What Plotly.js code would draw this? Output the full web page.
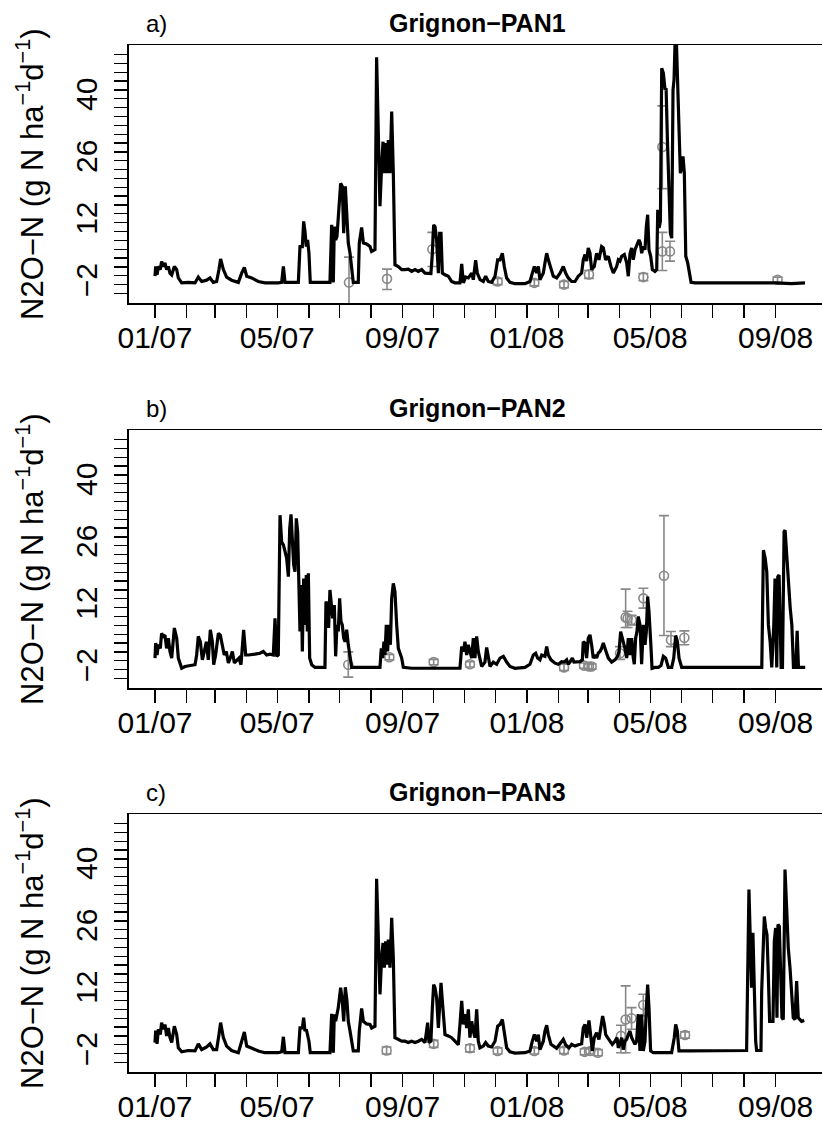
<!DOCTYPE html>
<html><head><meta charset="utf-8">
<script src="https://cdn.plot.ly/plotly-3.0.1.min.js"></script>
<style>html,body{margin:0;padding:0;background:#fff}#chart{width:822px;height:1126px}</style>
</head><body><div id="chart"></div>
<script>
// ---- data: [day since 2007-01-01, N2O-N flux (g N ha-1 d-1)] ----
const START_DATE = '2007-01-01';

const modelPAN1 = [[0,-0.1],[0.7,2.1],[2,0.2],[3.3,2.1],[5.2,1.4],[6.5,3.2],[8.2,2.1],[9.8,2.9],[11.4,1.4],[13.1,2.1],[14.7,0.6],[16.4,0.2],[19,2.1],[21.3,1.4],[22.9,-0.5],[26.2,-1.6],[32.7,-1.5],[39.3,-1.6],[42.5,-0.3],[45.8,-1.3],[50.7,-1.0],[54,-0.5],[57.2,-1.5],[60.5,-1.3],[62.8,1.4],[64.4,3.8],[67.1,1.4],[70.3,-0.3],[75.2,-1.0],[81.8,-1.5],[85.1,0.6],[87.7,1.9],[90,-0.1],[94.9,-0.5],[101.4,-1.3],[108,-1.6],[121,-1.6],[124.3,-1.5],[126,2.1],[127.6,-1.5],[140.7,-1.5],[142.3,6.6],[144.6,6.6],[145.9,12.3],[147.2,10.0],[148.5,6.6],[149.8,8.1],[151.1,5.1],[152.4,-1.5],[171.7,-1.5],[173.4,11.5],[175,-1.5],[176,11.1],[177.3,8.1],[178.6,8.9],[179.9,13.4],[182.2,20.9],[183.8,20.2],[185.2,9.6],[186.8,20.2],[188.4,11.9],[189.7,7.4],[191.4,5.1],[193,2.1],[194.6,-1.5],[199.5,-1.5],[200.5,7.4],[202.8,10.9],[204.5,7.4],[207.7,7.2],[211,6.6],[212.6,5.5],[215.9,5.9],[217.5,49.4],[219.2,30.7],[220.8,15.7],[222.4,24.7],[223.8,30.3],[225.1,23.2],[226.4,30.0],[227.7,23.2],[229,30.7],[230.6,23.2],[232.3,37.1],[233.9,23.2],[235.5,2.5],[238.8,2.1],[242.1,1.4],[245.3,1.4],[248.6,1.5],[251.9,1.0],[255.2,1.4],[258.4,1.0],[261.7,1.4],[265,0.6],[268.2,0.6],[270.8,0.5],[272.2,5.1],[273.5,11.5],[274.8,11.1],[276.4,8.1],[278.1,0.6],[279.4,9.6],[280.7,9.6],[282,0.6],[284.6,0.2],[287.9,-0.1],[291.1,-1.3],[294.4,-1.6],[299.3,-1.6],[301,2.7],[302.6,-1.6],[304.9,-0.3],[307.5,-0.5],[310.8,0.6],[312.4,-0.9],[314.7,3.5],[316.3,0.6],
[319,-0.9],[322.2,-1.3],[324.5,-0.1],[327.1,-1.3],[330.4,-1.5],[333.7,-0.1],[336.3,3.6],[338.6,3.6],[340.9,5.1],[342.8,2.1],[345.1,-0.5],[348.4,-1.5],[353.3,-1.8],[363.1,-1.8],[368,-1.3],[370.3,0.6],[372.3,2.1],[374.6,0.6],[376.2,2.1],[377.8,-0.9],[381.1,0.6],[382.7,2.9],[384.4,5.1],[386,3.6],[388.6,1.4],[390.9,-0.1],[394.2,-0.5],[397.5,0.6],[400.7,2.1],[403,0.6],[405.6,-0.5],[408.9,-1.3],[412.2,-1.3],[415.4,-0.1],[418.7,0.6],[420.3,3.6],[422,4.8],[423.6,3.3],[425.2,6.3],[426.9,5.1],[428.5,1.4],[431.1,2.1],[433.4,5.1],[435.7,3.6],[438.3,6.6],[440,6.3],[442.3,3.6],[444.9,4.4],[447.5,2.1],[449.8,0.6],[453.1,2.1],[454.7,3.6],[456.3,3.3],[458,4.4],[460.6,4.8],[462.9,2.9],[464.5,-0.1],[466.2,5.1],[467.8,6.3],[469.4,3.6],[471.1,5.9],[473.7,7.4],[475,8.1],[476.3,7.4],[477.6,5.1],[479.3,6.6],[480.9,5.9],[482.2,11.1],[483.5,13.8],[484.8,5.9],[486.5,4.4],[488.1,1.4],[490.7,1.0],[492.4,1.4],[493.4,14.9],[494.7,10.8],[496,12.3],[497.3,46.9],[498.9,45.8],[500.6,42.0],[501.6,42.4],[502.9,30.7],[504.5,19.4],[505.8,9.6],[507.1,8.5],[508.4,42.0],[509.4,44.3],[510.4,53],[511.7,53],[513,40.5],[514.3,28.5],[515.6,23.2],[516.9,24.7],[518.2,27.0],[519.5,23.2],[520.9,4.4],[522.8,2.9],[524.5,0.6],[526.1,-1.5],[530,-1.6],[543,-1.6],[559.4,-1.6],[575.8,-1.6],[592.1,-1.5],[608.5,-1.6],[624.8,-1.8],[637.9,-1.6]];

const modelPAN2 = [[0,0.6],[0.7,4.0],[2,1.3],[3.3,3.6],[5.2,2.8],[6.5,6.2],[8.2,5.5],[9.8,5.8],[11.4,2.8],[13.1,5.1],[14.7,2.1],[16.4,0.6],[19,7.4],[21.3,5.1],[22.9,0.6],[26.2,-1.7],[29.4,-1.3],[39.3,-0.9],[40.9,1.3],[42.5,5.5],[44.5,4.3],[46.5,0.2],[48.4,2.1],[50.4,4.3],[52.3,0.2],[54.3,7.0],[56.3,4.3],[57.6,-0.9],[59.5,1.3],[62.2,6.2],[64.1,5.8],[66.1,3.6],[68,1.3],[70,2.1],[72,-0.5],[73.9,0.6],[75.9,2.1],[77.9,-0.5],[80.5,0.2],[82.4,0.6],[84.4,-0.9],[87,7.0],[89,1.3],[91.6,1.3],[98.1,1.5],[103,1.7],[106.3,2.1],[109.6,1.3],[112.9,1.5],[116.1,1.3],[117.8,9.6],[119.4,1.0],[121,1.3],[122.7,32.9],[124.3,26.9],[126,26.2],[127.6,24.7],[129.2,23.2],[130.9,19.0],[132.2,29.9],[133.5,33.1],[134.8,28.4],[136.1,21.7],[137.4,20.1],[138.7,32.2],[140,29.2],[141.3,15.6],[142.3,6.6],[143.6,17.1],[144.6,2.1],[145.9,18.6],[147.2,8.1],[148.5,19.4],[149.5,6.6],[150.5,19.8],[151.8,0.6],[153.8,-0.9],[157,-1.5],[166.8,-1.5],[167.8,13.4],[169.1,12.6],[170.4,7.4],[171.7,16.0],[173,12.6],[174.4,9.6],[176,12.6],[177.3,1.0],[178.6,8.1],[179.9,6.6],[181.2,14.1],[182.5,8.9],[183.8,8.1],[185.2,5.1],[186.5,4.3],[188.1,7.0],[189.7,3.6],[191.4,0.6],[193,-1.5],[220.8,-1.5],[222.1,2.8],[223.4,0.6],[224.7,4.3],[225.7,1.3],[227,8.1],[228.3,2.1],[229.6,8.1],[231,3.6],[232.3,14.1],[233.9,17.5],[235.5,15.6],[237.2,8.1],[238.8,2.8],[242.1,0.6],[243.7,-1.5],[251.9,-1.7],[268.2,-1.7],[284.6,-1.7],[299.3,-1.7],[301,3.2],[302.6,2.1],[304.2,4.3],[305.9,1.3],[307.5,3.6],[309.1,2.1],[310.8,0.6],[312.4,5.1],[314,0.6],[315.7,5.5],[317.3,2.1],
[320.6,-1.3],[323.8,-0.3],[325.5,3.0],[327.1,0.6],[328.8,-1.3],[332,-0.3],[335.3,-0.8],[338.6,0.6],[341.9,1.0],[345.1,-0.3],[348.4,-1.3],[353.3,-1.7],[363.1,-1.5],[368,-0.8],[371.3,1.3],[373.6,1.7],[375.5,0.6],[377.8,0.2],[379.5,1.3],[382.7,1.0],[384.4,3.2],[386,1.3],[388.6,0.2],[392.6,-0.55],[395.8,-0.8],[399.1,-0.2],[401.7,-0.3],[404,0.2],[405.6,-0.8],[407.3,-0.3],[409.6,0.6],[411.2,-0.3],[413.8,-0.2],[417.1,-0.2],[419.4,0.2],[420.3,4.3],[422,4.0],[423.6,0.6],[425.2,5.1],[426.9,5.85],[428.5,3.6],[430.1,0.6],[431.8,1.3],[433.4,0.6],[435,1.7],[436.7,2.1],[438.3,2.8],[440,4.0],[441.6,2.8],[443.2,1.7],[444.9,0.6],[448.2,-0.3],[451.4,0.2],[454,1.0],[455.4,2.1],[457,6.6],[458.6,5.1],[459.9,4.3],[461.2,2.8],[462.9,0.6],[464.5,5.1],[466.2,1.3],[467.8,5.1],[469.4,0.6],[470.4,-0.8],[471.7,5.1],[473,6.6],[474.3,10.0],[476,8.1],[477.6,-0.8],[479.3,8.1],[480.9,3.6],[482.2,6.6],[483.5,14.5],[484.8,11.1],[486.5,4.3],[487.8,-1.7],[490.7,-1.5],[494,-1.5],[496.6,-1.1],[498.9,1.0],[501.2,0.6],[503.8,-1.5],[507.1,-1.5],[509.1,0.6],[511,5.7],[512.7,4.3],[514.3,0.6],[516.9,-1.5],[523.5,-1.5],[543.1,-1.5],[575.8,-1.5],[595.5,-1.5],[597.1,25.0],[598.8,23.2],[600.4,20.1],[602,8.1],[603.7,4.3],[605.3,-1.5],[607.3,8.1],[608.5,18.6],[610.2,-1.5],[611.2,19.0],[612.5,19.4],[614.5,-1.5],[615.8,-1.5],[617.4,29.2],[618.4,29.5],[620.1,23.2],[621.7,15.6],[623.4,11.9],[625,8.1],[626.6,-1.5],[628.9,-1.5],[630.2,6.75],[631.5,-1.5],[638.1,-1.5]];

const modelPAN3 = [[0,0.5],[0.7,3.2],[2,0.2],[3.3,3.5],[5.2,2.3],[6.5,5.0],[8.2,3.5],[9.8,4.6],[11.4,2.0],[13.1,3.8],[14.7,1.6],[16.4,0.5],[19,4.2],[21.3,2.3],[22.9,-0.7],[26.2,-1.6],[32.7,-1.3],[39.3,-1.4],[42.5,0.2],[45.8,-1.1],[50.7,-0.5],[54,0.2],[57.2,-1.1],[60.5,-1.1],[62.8,2.3],[64.4,5.0],[67.1,1.6],[70.3,-0.3],[75.2,-1.3],[81.8,-1.8],[85.1,0.8],[87.7,2.9],[90,-0.3],[94.9,-0.8],[101.4,-1.4],[108,-1.8],[121,-1.8],[124.3,-1.6],[126,1.8],[127.6,-1.8],[140.7,-1.8],[142.3,3.8],[144.6,3.8],[145.9,6.1],[147.2,3.1],[148.5,3.5],[149.8,2.3],[151.1,0.8],[152.4,-1.8],[171.7,-1.8],[173.4,7.0],[175,-1.8],[176,6.9],[177.3,5.3],[178.6,6.9],[179.9,8.4],[182.2,12.9],[183.8,9.9],[185.2,5.3],[186.8,13.0],[188.4,9.9],[189.7,5.3],[191.4,3.1],[193,0.8],[194.6,-1.4],[199.5,-1.4],[200.5,3.1],[202.8,8.2],[204.5,5.3],[207.7,4.7],[211,4.6],[212.6,3.8],[215.9,4.2],[217.5,37.5],[219.2,23.4],[220.8,11.4],[222.4,19.6],[223.8,23.0],[225.1,17.4],[226.4,23.4],[227.7,18.1],[229,23.8],[230.6,17.4],[232.3,28.7],[233.9,19.6],[235.5,1.6],[238.8,1.2],[242.1,0.8],[245.3,0.8],[248.6,0.5],[251.9,0.8],[255.2,0.5],[258.4,0.8],[261.7,1.2],[265,0.5],[266.6,3.0],[267.6,5.0],[268.9,0.5],[270.8,0.8],[272.2,8.4],[273.5,13.6],[274.8,12.9],[276.4,10.6],[278.1,3.8],[279.4,8.4],[280.7,14.0],[282,9.9],[283.3,5.3],[284.6,2.3],[287.9,2.0],[291.1,1.6],[294.4,0.8],[297.7,0.0],[299.3,4.6],[301,9.9],[302.6,4.6],[304.2,6.9],[305.9,3.8],[307.5,8.0],[309.1,1.6],[310.8,5.3],[312.4,3.1],[314,1.6],[315.7,8.0],[317.3,0.8],
[318.9,-0.7],[322.2,-0.3],[324.5,0.5],[327.1,-0.3],[330.4,-0.5],[333.7,0.8],[336.3,4.2],[338.6,4.6],[340.9,5.7],[342.8,2.3],[345.1,-0.7],[348.4,-1.6],[353.3,-1.9],[363.1,-1.8],[368,-1.4],[370.3,0.8],[372.3,2.3],[374.6,0.8],[376.2,2.3],[377.8,-1.1],[381.1,0.8],[382.7,3.1],[384.4,4.4],[386,2.3],[388.6,0.1],[394.2,-0.8],[397.5,0.1],[400.7,1.2],[403,0.0],[406.3,-0.7],[408.9,0.1],[412.2,-0.3],[415.4,0.0],[418.7,0.2],[420.3,3.8],[422,4.6],[423.6,1.6],[425.9,5.5],[427.5,2.3],[429.2,-1.4],[431.1,1.6],[433.4,2.7],[435.7,1.2],[437.7,4.6],[439.3,6.5],[441,4.6],[442.3,2.3],[444.2,1.6],[446.5,0.8],[448.8,0.1],[451.4,0.8],[453.4,1.6],[454.7,-0.7],[456.3,0.1],[458,1.6],[459.6,-1.1],[461.2,0.8],[462.9,1.2],[464.5,2.3],[466.1,3.1],[467.8,1.6],[469.4,0.8],[471,0.1],[472.7,0.8],[474.3,6.9],[476,-1.4],[477.6,6.9],[479.2,-1.4],[480.9,0.8],[482.2,8.4],[483.5,13.6],[484.8,8.4],[486.4,-1.4],[489,-1.8],[497.2,-1.8],[507,-1.8],[509.6,1.6],[511,4.6],[512.6,3.1],[514.2,-1.4],[523.4,-1.4],[543,-1.4],[562.6,-1.3],[575.7,-1.3],[580.6,-1.3],[582.9,35.1],[584.6,21.9],[585.5,12.9],[586.8,25.3],[588.2,8.4],[589.5,0.8],[590.4,-1.3],[594.7,-1.3],[595.4,12.1],[596.7,23.4],[598,29.0],[599.3,26.4],[600.6,24.9],[601.9,15.9],[603.2,5.3],[604.5,5.3],[606.5,5.3],[607.8,23.4],[609.1,26.4],[610.4,6.1],[611.4,27.2],[612.7,26.8],[614,15.9],[615.3,6.1],[616.6,5.7],[618.3,39.6],[619.9,30.9],[621.5,21.9],[623.2,17.4],[624.8,11.4],[626.4,6.1],[628.1,5.7],[629.7,14.4],[631.3,6.1],[633,5.7],[634.6,5.3],[637.2,5.5]];

// measured fluxes: day, mean, upper, lower
const obsDay1  = [190.4, 227.7, 272.2, 336.3, 372.3, 401.4, 425.9, 479.3, 497.9, 497.9, 505.4, 611.0];
const obsMean1 = [-1.5, -0.7, 6.0, -1.3, -1.6, -2.0, 0.3, -0.3, 29.1, 5.5, 5.5, -0.9];
const obsHigh1 = [4.2, 1.5, 9.8, -0.6, -0.9, -1.3, 1.2, 0.5, 38.4, 9.8, 7.8, -0.3];
const obsLow1  = [-9.0, -3.1, 2.1, -2.0, -2.3, -2.7, -0.6, -1.1, 19.7, 1.2, 3.3, -1.5];

const obsDay2  = [189.7, 230.0, 273.5, 309.1, 401.4, 421.0, 425.9, 428.5, 456.4, 461.9, 463.8, 467.8, 479.3, 499.5, 506.4, 519.5];
const obsMean2 = [-0.9, 0.8, -0.3, -0.8, -1.5, -1.1, -1.3, -1.3, 1.7, 9.8, 9.6, 9.2, 14.1, 19.2, 4.7, 5.2];
const obsHigh2 = [2.0, 1.4, 0.3, -0.2, -0.8, -0.5, -0.7, -0.7, 3.2, 16.2, 11.2, 10.3, 16.4, 32.8, 6.6, 6.75];
const obsLow2  = [-3.7, 0.2, -0.9, -1.4, -2.2, -1.7, -1.9, -1.9, 0.3, 7.5, 7.5, 8.1, 11.9, 5.7, 3.2, 3.6];

const obsDay3  = [227.3, 273.5, 309.1, 336.3, 372.3, 401.4, 421.7, 427.3, 434.7, 457.3, 461.9, 467.7, 479.2, 520.2];
const obsMean3 = [-1.3, 0.2, -0.8, -1.4, -1.4, -1.3, -1.6, -1.4, -1.8, 2.0, 5.7, 6.0, 9.0, 2.2];
const obsHigh3 = [-0.5, 1.0, 0.0, -0.7, -0.7, -0.6, -0.9, -0.7, -1.1, 4.4, 13.3, 8.4, 11.4, 2.9];
const obsLow3  = [-2.1, -0.6, -1.6, -2.1, -2.1, -2.0, -2.3, -2.1, -2.5, -1.8, -1.8, 3.5, 6.5, 1.5];

const panelTitles = ['Grignon\u2212PAN1', 'Grignon\u2212PAN2', 'Grignon\u2212PAN3'];
const panelTags = ['a)', 'b)', 'c)'];
const tickDates = ['2007-01-01','2007-02-01','2007-03-01','2007-04-01','2007-05-01','2007-06-01','2007-07-01','2007-08-01','2007-09-01','2007-10-01','2007-11-01','2007-12-01','2008-01-01','2008-02-01','2008-03-01','2008-04-01','2008-05-01','2008-06-01','2008-07-01','2008-08-01','2008-09-01'];
const tickLabels = ['01/07','','','','05/07','','','','09/07','','','','01/08','','','','05/08','','','','09/08'];
const yTickVals = [-4,-2,0,2,4,6,8,10,12,14,16,18,20,22,24,26,28,30,32,34,36,38,40,42,44,46,48,50];
const yLabelled = {'-2':'\u22122','12':'12','26':'26','40':'40'};
const yLabel = 'N2O\u2212N (g N ha<sup>\u22121</sup>d<sup>\u22121</sup>)';

// ---- build ----
const t0 = Date.parse(START_DATE + 'T00:00:00Z');
const toDate = d => new Date(t0 + d * 86400000).toISOString().slice(0, 19).replace('T', ' ');
const FONT = 'Liberation Sans, Arial, Helvetica, sans-serif';
const GREY = '#888888';
const W = 822, H = 1126;
const panels = [
  {model: modelPAN1, day: obsDay1, mean: obsMean1, hi: obsHigh1, lo: obsLow1, top: 45, bottom: 303},
  {model: modelPAN2, day: obsDay2, mean: obsMean2, hi: obsHigh2, lo: obsLow2, top: 430, bottom: 688},
  {model: modelPAN3, day: obsDay3, mean: obsMean3, hi: obsHigh3, lo: obsLow3, top: 814, bottom: 1072}
];

const data = [];
const layout = {
  width: W, height: H, margin: {l: 0, r: 0, t: 0, b: 0},
  paper_bgcolor: '#fff', plot_bgcolor: '#fff', showlegend: false, hovermode: false,
  annotations: []
};
const xDom = [128.7 / W, 1];
panels.forEach((p, i) => {
  const n = i + 1;
  const xa = n === 1 ? 'x' : 'x' + n, ya = n === 1 ? 'y' : 'y' + n;
  data.push({
    type: 'scatter', mode: 'markers', xaxis: xa, yaxis: ya,
    x: p.day.map(toDate), y: p.mean,
    marker: {symbol: 'circle-open', size: 9, color: GREY, line: {width: 1.6, color: GREY}},
    error_y: {type: 'data', symmetric: false,
      array: p.hi.map((h, k) => h - p.mean[k]), arrayminus: p.lo.map((l, k) => p.mean[k] - l),
      color: GREY, thickness: 1.6, width: 5}
  });
  data.push({
    type: 'scatter', mode: 'lines', xaxis: xa, yaxis: ya,
    x: p.model.map(r => toDate(r[0])), y: p.model.map(r => r[1]),
    line: {color: '#000', width: 3.2}
  });
  const yDom = [1 - p.bottom / H, 1 - p.top / H];
  layout['xaxis' + (n === 1 ? '' : n)] = {
    domain: xDom, anchor: ya, type: 'date',
    range: [toDate(-25.8), toDate(654.6)],
    tickmode: 'array', tickvals: tickDates, ticktext: tickLabels,
    ticks: 'outside', ticklen: 13, tickwidth: 1.3, tickcolor: '#000',
    showline: true, mirror: true, linecolor: '#000', linewidth: 1.5,
    showgrid: false, zeroline: false, tickangle: 0, ticklabelstandoff: -6,
    tickfont: {family: FONT, size: 30, color: '#000'}
  };
  layout['yaxis' + (n === 1 ? '' : n)] = {
    domain: yDom, anchor: xa, range: [-6.16, 52.16],
    tickmode: 'array', tickvals: yTickVals,
    ticktext: yTickVals.map(v => yLabelled[String(v)] || ''),
    ticks: 'outside', ticklen: 13, tickwidth: 1.3, tickcolor: '#000',
    showline: true, mirror: false, linecolor: '#000', linewidth: 1.5,
    showgrid: false, zeroline: false, tickangle: -90, ticklabelstandoff: 5,
    tickfont: {family: FONT, size: 30, color: '#000'}
  };
  const tagY = 1 - (p.top - 22) / H;
  layout.annotations.push({xref: 'paper', yref: 'paper', x: 144 / W, y: tagY, xanchor: 'left', yanchor: 'middle',
    text: panelTags[i], showarrow: false, font: {family: FONT, size: 24, color: '#000'}});
  layout.annotations.push({xref: 'paper', yref: 'paper', x: 477 / W, y: tagY, xanchor: 'center', yanchor: 'middle',
    text: '<b>' + panelTitles[i] + '</b>', showarrow: false, font: {family: FONT, size: 25, color: '#000'}});
  layout.annotations.push({xref: 'paper', yref: 'paper', x: 30 / W, y: 1 - (p.top + p.bottom) / 2 / H,
    xanchor: 'center', yanchor: 'middle', textangle: -90,
    text: yLabel, showarrow: false, font: {family: FONT, size: 31, color: '#000'}});
});

Plotly.newPlot('chart', data, layout, {displayModeBar: false, staticPlot: true});
</script></body></html>
